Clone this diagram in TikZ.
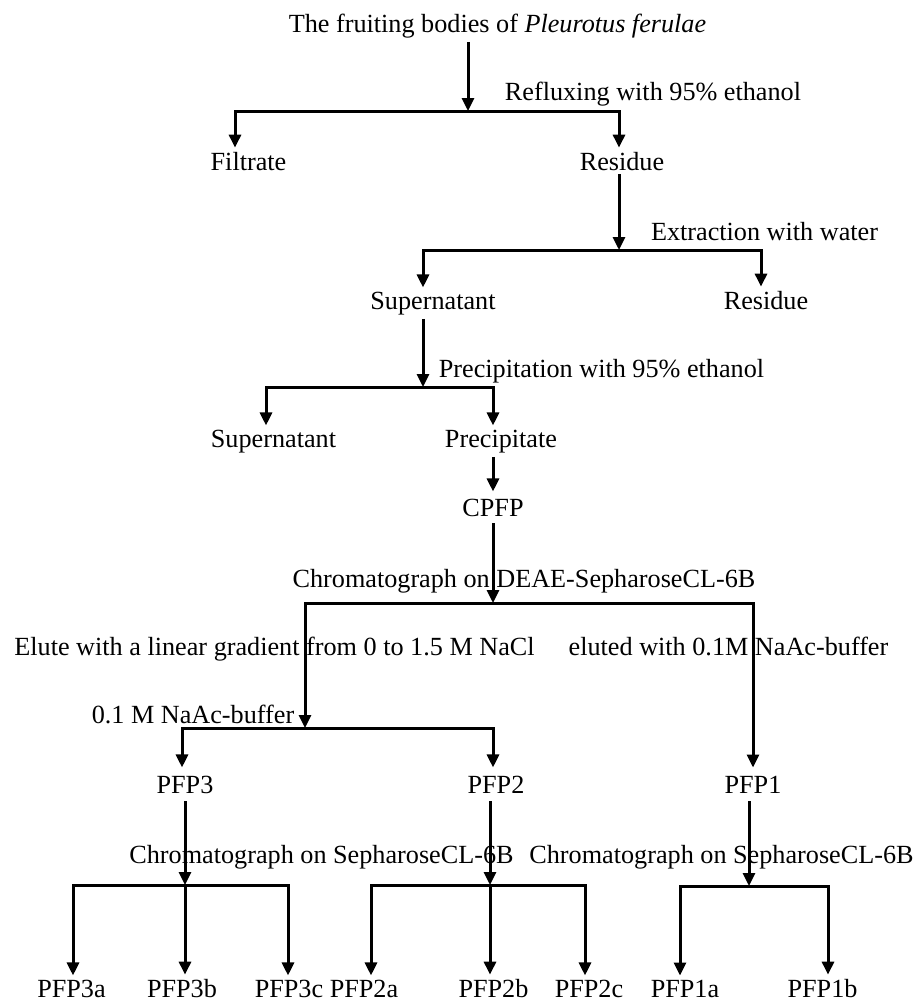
\documentclass[tikz,border=0pt]{standalone}
\usepackage{fontspec}
\setmainfont{Liberation Serif}
\usepackage{tikz}
\usetikzlibrary{arrows.meta}
\tikzstyle{flowarrow} = [line width=3pt,-{Triangle[width=12pt,length=13pt]}]
\tikzstyle{flowline} = [line width=3pt]
\tikzstyle{lbl} = [anchor=base, inner sep=4pt, font=\fontsize{26.2}{30}\selectfont]

\begin{document}
\begin{tikzpicture}[x=1pt,y=-1pt]
\useasboundingbox (0,0) rectangle (920,1002);

% Starting material
\node[lbl] (fruit) at (497.5,32) {The fruiting bodies of \textit{Pleurotus ferulae}};

% Refluxing step
\node[lbl] (reflux) at (653,100) {Refluxing with 95\% ethanol};
\node[lbl] (filtrate) at (248.5,170) {Filtrate};
\node[lbl] (residueA) at (622,170) {Residue};
\coordinate (sp1) at (468,111);
\coordinate (l1) at (235,111);
\coordinate (r1) at (619,111);
\draw[flowarrow] (fruit.south -| sp1) -- (sp1);
\draw[flowarrow] (sp1) -- (l1) -- (l1 |- filtrate.north);
\draw[flowarrow] (sp1) -- (r1) -- (r1 |- residueA.north);

% Water extraction
\node[lbl] (extract) at (764.5,240) {Extraction with water};
\node[lbl] (superA) at (433,309) {Supernatant};
\node[lbl] (residueB) at (766,309) {Residue};
\coordinate (sp2) at (619,250);
\coordinate (l2) at (423,250);
\coordinate (r2) at (761,250);
\draw[flowarrow] (residueA.south -| sp2) -- (sp2);
\draw[flowarrow] (sp2) -- (l2) -- (l2 |- superA.north);
\draw[flowarrow] (sp2) -- (r2) -- (r2 |- residueB.north);

% Ethanol precipitation
\node[lbl] (precipstep) at (601.5,377) {Precipitation with 95\% ethanol};
\node[lbl] (superB) at (273.5,447) {Supernatant};
\node[lbl] (precip) at (501,447) {Precipitate};
\node[lbl, inner sep=7pt] (cpfp) at (493,516) {CPFP};
\coordinate (sp3) at (423,387);
\coordinate (l3) at (266,387);
\coordinate (r3) at (493,387);
\draw[flowarrow] (superA.south -| sp3) -- (sp3);
\draw[flowarrow] (sp3) -- (l3) -- (l3 |- superB.north);
\draw[flowarrow] (sp3) -- (r3) -- (r3 |- precip.north);
\draw[flowarrow] (r3 |- precip.south) -- (r3 |- cpfp.north);

% DEAE column
\node[lbl] (deae) at (524,587) {Chromatograph on DEAE-SepharoseCL-6B};
\node[lbl] (nacl) at (274.5,655) {Elute with a linear gradient from 0 to 1.5 M NaCl};
\node[lbl] (naac) at (728.5,655) {eluted with 0.1M NaAc-buffer};
\node[lbl] (buffer) at (193,723) {0.1 M NaAc-buffer};
\node[lbl, inner sep=8pt] (pfp3) at (185,793) {PFP3};
\node[lbl, inner sep=8pt] (pfp2) at (496,793) {PFP2};
\node[lbl, inner sep=8pt] (pfp1) at (753,793) {PFP1};
\coordinate (sp4) at (493,603);
\coordinate (l4) at (305,603);
\coordinate (r4) at (753,603);
\coordinate (sp5) at (305,728);
\coordinate (l5) at (182,728);
\coordinate (r5) at (493,728);
\draw[flowarrow] (cpfp.south -| sp4) -- (sp4);
\draw[flowarrow] (sp4) -- (l4) -- (sp5);
\draw[flowarrow] (sp4) -- (r4) -- (r4 |- pfp1.north);
\draw[flowarrow] (sp5) -- (l5) -- (l5 |- pfp3.north);
\draw[flowarrow] (sp5) -- (r5) -- (r5 |- pfp2.north);

% Sepharose CL-6B columns
\node[lbl] (sephA) at (321.5,863) {Chromatograph on SepharoseCL-6B};
\node[lbl] (sephB) at (721.5,863) {Chromatograph on SepharoseCL-6B};
\node[lbl] (pfp3a) at (71.5,997) {PFP3a};
\node[lbl] (pfp3b) at (182,997) {PFP3b};
\node[lbl] (pfp3c) at (289,997) {PFP3c};
\node[lbl] (pfp2a) at (364,997) {PFP2a};
\node[lbl] (pfp2b) at (493.5,997) {PFP2b};
\node[lbl] (pfp2c) at (589,997) {PFP2c};
\node[lbl] (pfp1a) at (685,997) {PFP1a};
\node[lbl] (pfp1b) at (822.5,997) {PFP1b};
\coordinate (g3) at (185,885);
\coordinate (g3l) at (73,885);
\coordinate (g3r) at (288,885);
\coordinate (g2) at (490,885);
\coordinate (g2l) at (371,885);
\coordinate (g2r) at (585,885);
\coordinate (g1) at (749,886);
\coordinate (g1l) at (680,886);
\coordinate (g1r) at (828,886);
\draw[flowarrow] (pfp3.south -| g3) -- (g3);
\draw[flowarrow] (g3) -- (g3l) -- (g3l |- pfp3a.north);
\draw[flowarrow] (g3) -- (g3 |- pfp3b.north);
\draw[flowarrow] (g3) -- (g3r) -- (g3r |- pfp3c.north);
\draw[flowarrow] (pfp2.south -| g2) -- (g2);
\draw[flowarrow] (g2) -- (g2l) -- (g2l |- pfp2a.north);
\draw[flowarrow] (g2) -- (g2 |- pfp2b.north);
\draw[flowarrow] (g2) -- (g2r) -- (g2r |- pfp2c.north);
\draw[flowarrow] (pfp1.south -| g1) -- (g1);
\draw[flowarrow] (g1) -- (g1l) -- (g1l |- pfp1a.north);
\draw[flowarrow] (g1) -- (g1r) -- (g1r |- pfp1b.north);
\end{tikzpicture}
\end{document}
